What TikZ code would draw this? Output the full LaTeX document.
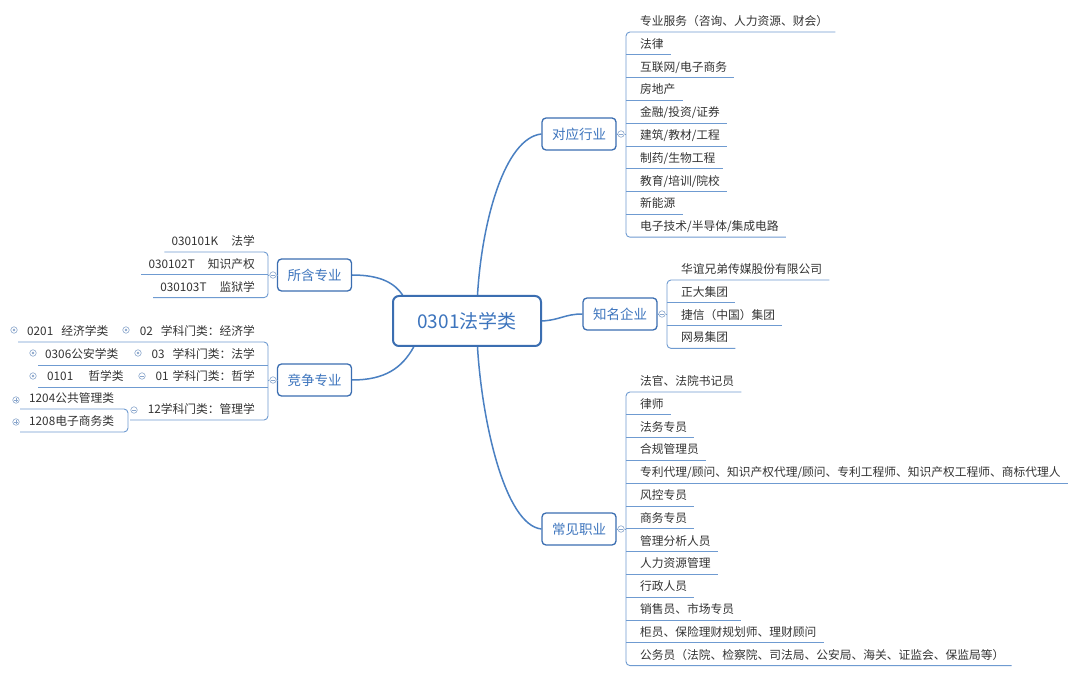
\documentclass[tikz,border=0pt]{standalone}
\usepackage{fontspec}
\setmainfont{Noto Sans CJK SC}
\usetikzlibrary{backgrounds}
\definecolor{txtc}{HTML}{333333}
\definecolor{linec}{HTML}{6F9BD1}
\definecolor{curvec}{HTML}{4A80C2}
\definecolor{boxc}{HTML}{3B6EB1}
\definecolor{boxtxt}{HTML}{3C74BD}
\definecolor{mkc}{HTML}{8AA6CC}
\tikzset{
 item/.style={font=\fontsize{11.75}{14}\selectfont, text=txtc, inner xsep=7pt, inner ysep=1pt},
 uline/.style={draw=linec, line width=0.9pt},
 branch/.style={draw=curvec, line width=1.5pt},
 topic/.style={draw=boxc, line width=1.3pt, rounded corners=4pt, fill=white, minimum width=74pt, minimum height=32pt, inner sep=0pt, text=boxtxt, font=\fontsize{13.5}{16}\selectfont},
 central/.style={draw=boxc, line width=2pt, rounded corners=6pt, fill=white, minimum width=148pt, minimum height=50pt, inner sep=0pt, text=boxtxt, font=\fontsize{19}{22}\selectfont},
 mk/.style={circle, draw=mkc, line width=0.6pt, fill=white, minimum size=6.5pt, inner sep=0pt},
 mminus/.style={mk, path picture={\draw[mkc, line width=0.6pt] ([xshift=-1.8pt]path picture bounding box.center) -- ([xshift=1.8pt]path picture bounding box.center);}},
 mplus/.style={mk, path picture={\draw[mkc, line width=0.6pt] ([xshift=-1.8pt]path picture bounding box.center) -- ([xshift=1.8pt]path picture bounding box.center) ([yshift=-1.8pt]path picture bounding box.center) -- ([yshift=1.8pt]path picture bounding box.center);}},
 mdot/.style={mk, path picture={\fill[mkc] (path picture bounding box.center) circle[radius=1.3pt];}},
}
\newcommand\RText[4]{\node[item, anchor=base west] (#1) at ({#2+7},{#3-6.5}) {#4};}
\newcommand\RLine[3]{\draw[uline] (#2,#3) -- (#1.base east |- 0,#3);}
\newcommand\LText[4]{\node[item, anchor=base east] (#1) at ({#2-6},{#3-6.5}) {#4};}
\newcommand\LLine[3]{\draw[uline] (#1.base west |- 0,#3) -- (#2,#3);}
\begin{document}
\begin{tikzpicture}[x=1pt,y=-1pt]
\useasboundingbox (0,0) rectangle (1080,676);

% central and topics
\node[central] (c) at (467,321) {0301法学类};
\node[topic] (A) at (579,134) {对应行业};
\node[topic] (B) at (620,314) {知名企业};
\node[topic] (C) at (579,529) {常见职业};
\node[topic] (D) at (314.5,275) {所含专业};
\node[topic] (E) at (314.5,380) {竞争专业};

% background and branches
\begin{scope}[on background layer]
\fill[white] (0,0) rectangle (1080,676);
\draw[branch] (c.68) .. controls (482,220) and (505,138) .. (A.west);
\draw[branch] (c.east) .. controls (560,320) and (565,314) .. (B.west);
\draw[branch] (c.-68) .. controls (482,422) and (505,525) .. (C.west);
\draw[branch] (c.158) .. controls (395,284) and (382,275) .. (D.east);
\draw[branch] (c.206) .. controls (402,368) and (385,380) .. (E.east);
\end{scope}

% markers by topics
\node[mminus] (mA) at (621,134) {};
\node[mminus] (mB) at (662,314) {};
\node[mminus] (mC) at (621,529) {};
\node[mminus] (mD) at (273,275) {};
\node[mminus] (mE) at (273,380) {};
\coordinate (vA) at (626,134);
\coordinate (vB) at (667,314);
\coordinate (vC) at (626,529);
\coordinate (vD) at (268,275);
\coordinate (vE) at (268,380);
\draw[uline] (A.east) -- (mA.west) (mA.east) -- (vA);
\draw[uline] (B.east) -- (mB.west) (mB.east) -- (vB);
\draw[uline] (C.east) -- (mC.west) (mC.east) -- (vC);
\draw[uline] (D.west) -- (mD.east) (mD.west) -- (vD);
\draw[uline] (E.west) -- (mE.east) (mE.west) -- (vE);

% group A
\RText{a1}{626}{32}{专业服务（咨询、人力资源、财会）}
\RText{a2}{626}{54.8}{法律}
\RText{a3}{626}{77.6}{互联网/电子商务}
\RText{a4}{626}{100.4}{房地产}
\RText{a5}{626}{123.2}{金融/投资/证券}
\RText{a6}{626}{146}{建筑/教材/工程}
\RText{a7}{626}{168.8}{制药/生物工程}
\RText{a8}{626}{191.6}{教育/培训/院校}
\RText{a9}{626}{214.4}{新能源}
\RText{a10}{626}{237.2}{电子技术/半导体/集成电路}
\draw[uline, rounded corners=4pt] (a1.base east |- 0,32) -- (626,32) -- (626,237.2) -- (a10.base east |- 0,237.2);
\RLine{a2}{626}{54.8}
\RLine{a3}{626}{77.6}
\RLine{a4}{626}{100.4}
\RLine{a5}{626}{123.2}
\RLine{a6}{626}{146}
\RLine{a7}{626}{168.8}
\RLine{a8}{626}{191.6}
\RLine{a9}{626}{214.4}

% group B
\RText{b1}{667}{280}{华谊兄弟传媒股份有限公司}
\RText{b2}{667}{302.8}{正大集团}
\RText{b3}{667}{325.6}{捷信（中国）集团}
\RText{b4}{667}{348.4}{网易集团}
\draw[uline, rounded corners=4pt] (b1.base east |- 0,280) -- (667,280) -- (667,348.4) -- (b4.base east |- 0,348.4);
\RLine{b2}{667}{302.8}
\RLine{b3}{667}{325.6}

% group C
\RText{c1}{626}{392}{法官、法院书记员}
\RText{c2}{626}{414.8}{律师}
\RText{c3}{626}{437.6}{法务专员}
\RText{c4}{626}{460.4}{合规管理员}
\RText{c5}{626}{483.2}{专利代理/顾问、知识产权代理/顾问、专利工程师、知识产权工程师、商标代理人}
\RText{c6}{626}{506}{风控专员}
\RText{c7}{626}{528.8}{商务专员}
\RText{c8}{626}{551.6}{管理分析人员}
\RText{c9}{626}{574.4}{人力资源管理}
\RText{c10}{626}{597.2}{行政人员}
\RText{c11}{626}{620}{销售员、市场专员}
\RText{c12}{626}{642.8}{柜员、保险理财规划师、理财顾问}
\RText{c13}{626}{665.6}{公务员（法院、检察院、司法局、公安局、海关、证监会、保监局等）}
\draw[uline, rounded corners=4pt] (c1.base east |- 0,392) -- (626,392) -- (626,665.6) -- (c13.base east |- 0,665.6);
\RLine{c2}{626}{414.8}
\RLine{c3}{626}{437.6}
\RLine{c4}{626}{460.4}
\RLine{c5}{626}{483.2}
\RLine{c6}{626}{506}
\RLine{c7}{626}{528.8}
\RLine{c8}{626}{551.6}
\RLine{c9}{626}{574.4}
\RLine{c10}{626}{597.2}
\RLine{c11}{626}{620}
\RLine{c12}{626}{642.8}

% group D
\LText{d1}{268}{252}{030101K\hspace{13pt}法学}
\LText{d2}{268}{274.8}{030102T\hspace{13pt}知识产权}
\LText{d3}{268}{297.6}{030103T\hspace{13pt}监狱学}
\draw[uline, rounded corners=4pt] (d1.base west |- 0,252) -- (268,252) -- (268,297.6) -- (d3.base west |- 0,297.6);
\LLine{d2}{268}{274.8}

% group E
\LText{e1}{268}{342}{02\hspace{8pt}学科门类：经济学}
\LText{e2}{268}{365}{03\hspace{8pt}学科门类：法学}
\LText{e3}{268}{387}{01\hspace{4pt}学科门类：哲学}
\LText{e4}{268}{420}{12学科门类：管理学}
\node[item, anchor=base west] (e1a) at (20,335.5) {0201\hspace{8pt}经济学类};
\node[item, anchor=base west] (e2a) at (38,358.5) {0306公安学类};
\node[item, anchor=base west] (e3a) at (40,380.5) {0101\hspace{15pt}哲学类};
\node[item, anchor=base west] (e4a) at (22,402.5) {1204公共管理类};
\node[item, anchor=base west] (e4b) at (22,425.5) {1208电子商务类};
\draw[uline, rounded corners=4pt] (18,342) -- (268,342) -- (268,420) -- (130,420);
\draw[uline] (38,365) -- (268,365);
\draw[uline] (38,387) -- (268,387);
\draw[uline, rounded corners=4pt] (20,409) -- (128,409) -- (128,432) -- (20,432);
\node[mdot] (k1a) at (14,330) {};
\node[mdot] (k2a) at (33,353) {};
\node[mdot] (k3a) at (33,376) {};
\node[mdot] (k1) at (126,330) {};
\node[mdot] (k2) at (138,353) {};
\node[mminus] (k3) at (142,376) {};
\node[mminus] (k4) at (134,410) {};
\node[mplus] (k4a) at (16,400) {};
\node[mplus] (k4b) at (16,422) {};
\end{tikzpicture}
\end{document}
